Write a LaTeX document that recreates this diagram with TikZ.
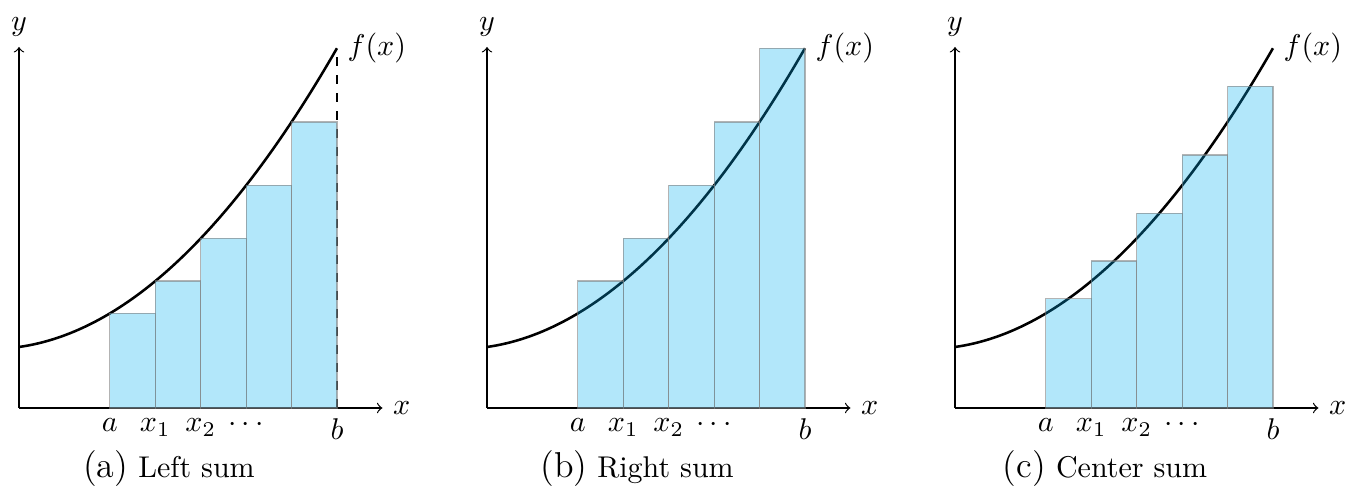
\documentclass[tikz,border=0pt]{standalone}
\definecolor{rectfill}{RGB}{0,174,239}
\begin{document}
\begin{tikzpicture}[x=0.33333pt,y=0.33333pt,
  declare function={f(\t)=61+6.43*\t+5.18*\t*\t;},
  axis/.style={->, line width=0.4pt},
  curve/.style={line width=0.85pt},
  rectbar/.style={fill=rectfill, fill opacity=0.3, draw=gray, draw opacity=0.6, line width=0.4pt},
  caption/.style={anchor=base, inner sep=0pt}]
\useasboundingbox (0,0) rectangle (1348,496);
\foreach \ox/\off/\lab/\txt in {0/0/a/Left sum, 468/1/b/Right sum, 936/0.5/c/Center sum}{
  \begin{scope}[shift={(19+\ox,88)}, x=15.143pt]
    \coordinate (O\lab) at (0,0);
    \coordinate (X\lab) at (8.0,0);
    \coordinate (Y\lab) at (0,361);
    \coordinate (E\lab) at (7,{f(7)});
    \coordinate (B\lab) at (7,0);
    \draw[axis] (O\lab) -- (X\lab);
    \draw[axis] (O\lab) -- (Y\lab);
    \node[right] (xl\lab) at (X\lab) {$x$};
    \node[above] (yl\lab) at (Y\lab) {$y$};
    \draw[curve] plot[domain=0:7, samples=80, smooth, variable=\t] (\t,{f(\t)});
    \node[right] (fl\lab) at (E\lab) {$f(x)$};
    \ifnum\ox=0 \draw[dashed, line width=0.4pt] (B\lab) -- (E\lab); \fi
    \foreach \i in {2,...,6}{
      \draw[rectbar] (\i,0) rectangle ({\i+1},{f(\i+\off)});
    }
    \node[below] (ta\lab) at (2,0) {$a$};
    \node[below] (t1\lab) at (3,0) {$x_1$};
    \node[below] (t2\lab) at (4,0) {$x_2$};
    \node[below] (td\lab) at (5,0) {$\cdots$};
    \node[below] (tb\lab) at (B\lab) {$b$};
  \end{scope}
  \node[caption] (cap\lab) at (169+\ox,18) {{\large(\lab)}\ \txt};
}
\end{tikzpicture}
\end{document}
